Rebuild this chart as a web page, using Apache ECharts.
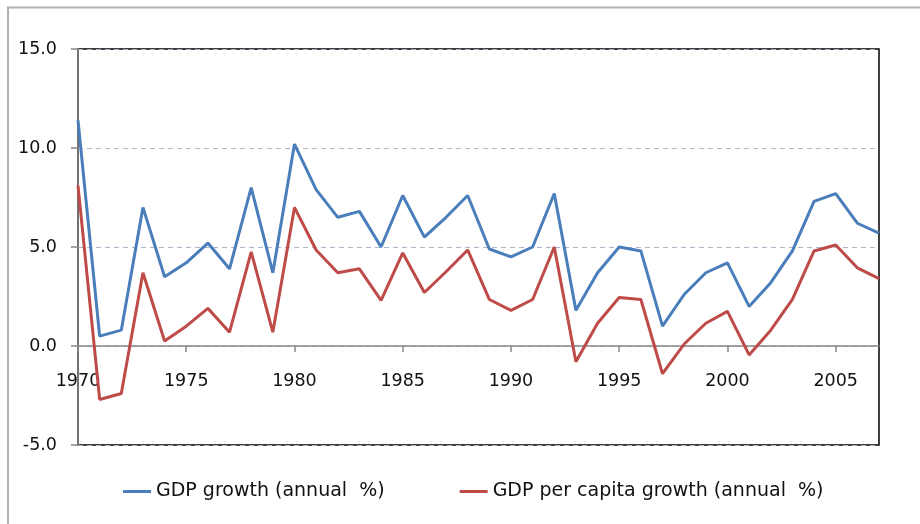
<!DOCTYPE html>
<html>
<head>
<meta charset="utf-8">
<script src="https://cdn.jsdelivr.net/npm/echarts@6/dist/echarts.min.js"></script>
<style>
html,body{margin:0;padding:0;background:#fff;}
#c{width:920px;height:524px;}
</style>
</head>
<body>
<div id="c"></div>
<script>
var years = [];
for (var y = 1970; y <= 2007; y++) years.push(String(y));

var gdpGrowth = [11.4, 0.5, 0.8, 7.0, 3.5, 4.2, 5.2, 3.9, 8.0, 3.7,
                 10.2, 7.9, 6.5, 6.8, 5.0, 7.6, 5.5, 6.5, 7.6, 4.9,
                 4.5, 5.0, 7.7, 1.8, 3.7, 5.0, 4.8, 1.0, 2.6, 3.7,
                 4.2, 2.0, 3.2, 4.8, 7.3, 7.7, 6.2, 5.7];

var gdpPerCapita = [8.1, -2.7, -2.4, 3.7, 0.25, 1.0, 1.9, 0.7, 4.75, 0.7,
                    7.0, 4.85, 3.7, 3.9, 2.3, 4.7, 2.7, 3.75, 4.85, 2.35,
                    1.8, 2.35, 5.0, -0.8, 1.15, 2.45, 2.35, -1.4, 0.1, 1.15,
                    1.75, -0.45, 0.8, 2.35, 4.8, 5.1, 3.95, 3.4];

var seriesNames = ['GDP growth (annual  %)', 'GDP per capita growth (annual  %)'];
var yMin = -5, yMax = 15, yStep = 5;

var gridTop = 49, gridBottom = 79, chartH = 524;
var plotH = chartH - gridTop - gridBottom;
// shift the category axis from the plot bottom up to the zero line
var zeroOffset = -plotH * (0 - yMin) / (yMax - yMin);

var chart = echarts.init(document.getElementById('c'), null, {renderer: 'canvas'});
var font = 'DejaVu Sans';
chart.setOption({
  animation: false,
  backgroundColor: '#ffffff',
  graphic: [{
    type: 'rect',
    shape: {x: 8, y: 7.5, width: 1000, height: 1000},
    style: {fill: 'none', stroke: '#b0b0b0', lineWidth: 2},
    silent: true, z: -10
  }],
  grid: {
    left: 78, right: 41, top: gridTop, bottom: gridBottom,
    show: true, borderColor: '#000', borderWidth: 1.5, backgroundColor: 'transparent'
  },
  legend: {
    left: 118, top: 477,
    itemWidth: 28, itemHeight: 3, icon: 'rect', itemGap: 75,
    textStyle: {fontFamily: font, fontSize: 19, color: '#111'},
    data: seriesNames
  },
  xAxis: {
    type: 'category',
    data: years,
    boundaryGap: false,
    offset: zeroOffset,
    axisLine: {onZero: false, lineStyle: {color: '#868686', width: 1.5}},
    axisTick: {interval: 4, length: 6, lineStyle: {color: '#868686', width: 1.5}},
    axisLabel: {interval: 4, margin: 26, fontFamily: font, fontSize: 17.5, color: '#111'},
    splitLine: {show: false}
  },
  yAxis: {
    type: 'value',
    min: yMin, max: yMax, interval: yStep,
    axisLine: {show: true, lineStyle: {color: '#868686', width: 1.5}},
    axisTick: {show: true, length: 7, lineStyle: {color: '#868686', width: 1.5}},
    axisLabel: {margin: 21, fontFamily: font, fontSize: 17.5, color: '#111',
      formatter: function (v) { return v.toFixed(1); }},
    splitLine: {show: true, lineStyle: {color: '#aab4ca', type: [5, 4], width: 1}}
  },
  series: [
    {name: seriesNames[0], type: 'line', data: gdpGrowth, symbol: 'none',
     lineStyle: {color: '#4a7ebb', width: 3}, itemStyle: {color: '#4a7ebb'}, z: 3},
    {name: seriesNames[1], type: 'line', data: gdpPerCapita, symbol: 'none',
     lineStyle: {color: '#be4b48', width: 3}, itemStyle: {color: '#be4b48'}, z: 2}
  ]
});
</script>
</body>
</html>
